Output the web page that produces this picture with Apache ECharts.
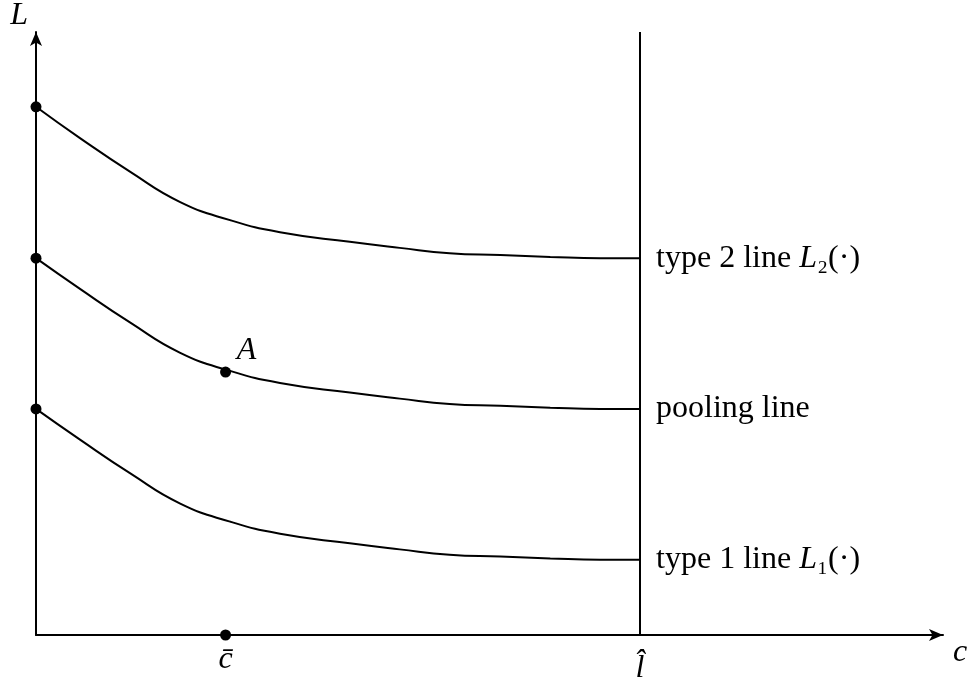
<!DOCTYPE html>
<html>
<head>
<meta charset="UTF-8">
<title>pooling line</title>
<script src="https://cdn.jsdelivr.net/npm/echarts@6/dist/echarts.min.js"></script>
<style>
  html, body { margin: 0; padding: 0; background: #fff; }
  #main { width: 969px; height: 687px; }
</style>
</head>
<body>
<div id="main"></div>
<script>
// x positions along c, shared by the three curves
var cValues = [0, 4.85, 10.4, 15.9, 21.4, 26.9, 34.6, 40.1, 45.6, 51.2, 56.7, 62.2, 66.6];
var type2Line = [87.6, 82.4, 76.8, 71.8, 68.8, 66.8, 65.2, 64.2, 63.3, 63.0, 62.7, 62.5, 62.5];
var poolingLine = [62.5, 57.4, 51.8, 46.8, 43.8, 41.8, 40.2, 39.2, 38.3, 38.0, 37.7, 37.5, 37.5];
var type1Line = [37.5, 32.4, 26.8, 21.8, 18.8, 16.8, 15.2, 14.2, 13.3, 13.0, 12.7, 12.5, 12.5];
var lineNames = ['type 2 line {i|L}₂(·)', 'pooling line', 'type 1 line {i|L}₁(·)'];

// marked points
var dotX = [0, 0, 0, 20.9, 20.9];
var dotY = [87.6, 62.5, 37.5, 43.6, 0];
var dotText = ['', '', '', 'A', 'c\u0304'];
var lHat = 66.6;

var font = 'Liberation Serif';
var chart = echarts.init(document.getElementById('main'));

function curve(name, ys, label) {
  return {
    name: name,
    type: 'line',
    smooth: 0.5,
    symbol: 'none',
    lineStyle: { color: '#000', width: 2 },
    data: cValues.map(function (x, i) { return [x, ys[i]]; }),
    endLabel: {
      show: true,
      distance: 16,
      formatter: label,
      color: '#000',
      fontFamily: font,
      fontSize: 32,
      rich: { i: { fontFamily: font, fontStyle: 'italic', fontSize: 32, color: '#000' } }
    },
    z: 3
  };
}

var option = {
  animation: false,
  backgroundColor: '#fff',
  grid: { left: 36, right: 26, top: 32, bottom: 52, outerBoundsMode: 'none', containLabel: false },
  xAxis: {
    type: 'value', min: 0, max: 100,
    name: 'c', nameLocation: 'end', nameGap: 10,
    nameTextStyle: { fontFamily: font, fontStyle: 'italic', fontSize: 32, color: '#000', verticalAlign: 'top', padding: [2, 0, 0, 0] },
    axisLine: { lineStyle: { color: '#000', width: 2 }, symbol: ['none', 'arrow'], symbolSize: [9, 14] },
    axisTick: { show: false }, axisLabel: { show: false }, splitLine: { show: false }
  },
  yAxis: {
    type: 'value', min: 0, max: 100,
    name: 'L', nameLocation: 'end', nameGap: 16,
    nameTextStyle: { fontFamily: font, fontStyle: 'italic', fontSize: 32, color: '#000', align: 'right', verticalAlign: 'middle', padding: [0, 8, 0, 0] },
    axisLine: { lineStyle: { color: '#000', width: 2 }, symbol: ['none', 'arrow'], symbolSize: [9, 14] },
    axisTick: { show: false }, axisLabel: { show: false }, splitLine: { show: false }
  },
  series: [
    curve('type2', type2Line, lineNames[0]),
    curve('pooling', poolingLine, lineNames[1]),
    curve('type1', type1Line, lineNames[2]),
    {
      type: 'line',
      data: [],
      markLine: {
        silent: true, symbol: 'none',
        lineStyle: { color: '#000', width: 2, type: 'solid' },
        label: { show: false },
        data: [{ xAxis: lHat }]
      }
    },
    {
      type: 'scatter',
      symbolSize: 11,
      itemStyle: { color: '#000', opacity: 1 },
      data: dotX.map(function (x, i) { return [x, dotY[i]]; }),
      label: {
        show: true,
        fontFamily: font, fontStyle: 'italic', fontSize: 32, color: '#000',
        formatter: function (p) { return dotText[p.dataIndex]; },
        position: 'inside'
      },
      labelLayout: function (p) {
        if (p.dataIndex === 3) return { dx: 21, dy: -21 };
        if (p.dataIndex === 4) return { dy: 25 };
        return {};
      },
      z: 5
    },
    {
      type: 'scatter',
      symbolSize: 0,
      itemStyle: { opacity: 1 },
      data: [[lHat, 0]],
      label: {
        show: true, position: 'bottom', distance: 18,
        formatter: 'l\u0302',
        fontFamily: font, fontStyle: 'italic', fontSize: 32, color: '#000'
      }
    }
  ]
};
chart.setOption(option);
</script>
</body>
</html>
